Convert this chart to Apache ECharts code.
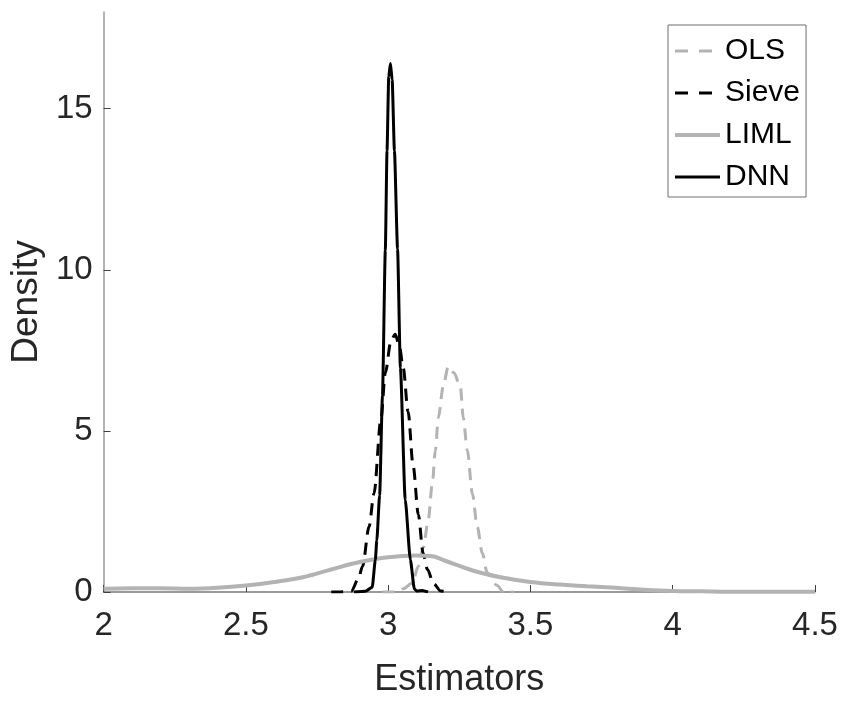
<!DOCTYPE html>
<html>
<head>
<meta charset="utf-8">
<script src="https://cdn.jsdelivr.net/npm/echarts@6/dist/echarts.min.js"></script>
<style>
  html, body { margin: 0; padding: 0; background: #fff; }
  #chart { width: 843px; height: 703px; }
</style>
</head>
<body>
<div id="chart"></div>
<script>
// Kernel density estimates of the four estimators
const olsX   = [2.98, 3.032, 3.053, 3.085, 3.106, 3.124, 3.141, 3.155, 3.166, 3.176, 3.194, 3.211, 3.232, 3.254, 3.264, 3.278, 3.296, 3.313, 3.331, 3.348, 3.383, 3.405, 3.44];
const olsY   = [0, 0, 0.1, 0.28, 0.8, 1.4, 2.25, 3.35, 4.4, 5.4, 6.4, 7.0, 6.8, 6.34, 5.4, 4.4, 3.05, 2.03, 1.2, 0.6, 0.2, 0, 0];

const sieveX = [2.80, 2.83, 2.87, 2.895, 2.91, 2.933, 2.95, 2.975, 2.99, 3.01, 3.025, 3.04, 3.053, 3.07, 3.088, 3.106, 3.123, 3.138, 3.16, 3.185, 3.21];
const sieveY = [0, 0, 0.02, 0.4, 0.8, 2.03, 3.05, 5.4, 6.8, 7.8, 8.0, 7.6, 6.95, 5.6, 3.9, 2.4, 1.2, 0.7, 0.25, 0.03, 0];

const limlX  = [2.0, 2.1, 2.2, 2.3, 2.4, 2.5, 2.6, 2.7, 2.8, 2.9, 3.0, 3.1, 3.15, 3.2, 3.3, 3.4, 3.5, 3.6, 3.7, 3.8, 3.9, 4.0, 4.1, 4.2, 4.3, 4.4, 4.5];
const limlY  = [0.10, 0.12, 0.12, 0.10, 0.13, 0.2, 0.31, 0.46, 0.7, 0.93, 1.08, 1.13, 1.12, 0.97, 0.66, 0.45, 0.31, 0.23, 0.18, 0.13, 0.07, 0.03, 0.02, 0.01, 0.01, 0.01, 0.01];

const dnnX   = [2.88, 2.92, 2.944, 2.955, 2.96, 2.97, 2.98, 2.99, 2.996, 3.002, 3.008, 3.014, 3.022, 3.033, 3.043, 3.06, 3.078, 3.092, 3.10, 3.12, 3.14];
const dnnY   = [0, 0.02, 0.15, 1.0, 1.6, 3.0, 6.1, 10.6, 13.7, 16.0, 16.4, 15.9, 13.7, 10.65, 6.95, 2.86, 1.0, 0.1, 0.03, 0.05, 0];

const seriesNames = ['OLS', 'Sieve', 'LIML', 'DNN'];
const xTicks = [2, 2.5, 3, 3.5, 4, 4.5];
const yTicks = [0, 5, 10, 15];

const pairs = (xs, ys) => xs.map((x, i) => [x, ys[i]]);

const GRAY = '#b3b3b3';
const FONT = '"Liberation Sans", Arial, Helvetica, sans-serif';

// line style per estimator, shared by the curve and its legend key
const styles = {
  OLS:   { color: GRAY,   width: 3, type: [12, 8] },
  Sieve: { color: '#000', width: 3, type: [12, 8] },
  LIML:  { color: GRAY,   width: 4, type: 'solid' },
  DNN:   { color: '#000', width: 3, type: 'solid' }
};
// legend keys show two dashes for the dashed estimators
const keyDash = [13, 11];

const chart = echarts.init(document.getElementById('chart'), null, { renderer: 'canvas' });

chart.setOption({
  animation: false,
  backgroundColor: '#ffffff',
  grid: { left: 103, right: 28, top: 12, bottom: 107, containLabel: false },
  legend: {
    orient: 'vertical',
    left: 668,
    top: 25,
    padding: [10, 6, 4, 5],
    itemWidth: 45,
    itemHeight: 14,
    itemGap: 10,
    backgroundColor: '#ffffff',
    borderColor: '#6e6e6e',
    borderWidth: 1,
    borderRadius: 0,
    // line-only legend keys (no marker in the middle)
    itemStyle: { opacity: 0 },
    textStyle: { fontFamily: FONT, fontSize: 30, lineHeight: 32, color: '#000' },
    data: seriesNames.map(n => ({
      name: n,
      lineStyle: {
        color: styles[n].color,
        width: styles[n].width,
        type: styles[n].type === 'solid' ? 'solid' : keyDash
      }
    }))
  },
  xAxis: {
    type: 'value',
    min: 2, max: 4.5, interval: 0.5,
    name: 'Estimators',
    nameLocation: 'middle',
    nameGap: 70,
    nameTextStyle: { fontFamily: FONT, fontSize: 36, color: '#262626' },
    axisLine: { show: true, onZero: false, lineStyle: { color: '#7a7a7a', width: 1.5 } },
    axisTick: { show: true, inside: true, length: 7, lineStyle: { color: '#404040', width: 1 }, customValues: xTicks },
    axisLabel: { fontFamily: FONT, fontSize: 33, color: '#262626', margin: 17, customValues: xTicks },
    splitLine: { show: false }
  },
  yAxis: {
    type: 'value',
    min: 0, max: 18, interval: 5,
    name: 'Density',
    nameLocation: 'middle',
    nameGap: 58,
    nameRotate: 90,
    nameTextStyle: { fontFamily: FONT, fontSize: 37, color: '#262626' },
    axisLine: { show: true, lineStyle: { color: '#9a9a9a', width: 1.5 } },
    axisTick: { show: true, inside: true, length: 7, lineStyle: { color: '#404040', width: 1 }, customValues: yTicks },
    axisLabel: { fontFamily: FONT, fontSize: 33, color: '#262626', margin: 11, customValues: yTicks },
    splitLine: { show: false }
  },
  series: [
    {
      name: 'OLS', type: 'line', data: pairs(olsX, olsY),
      symbol: 'none', smooth: 0.3, smoothMonotone: 'x',
      lineStyle: styles.OLS, itemStyle: { color: GRAY }
    },
    {
      name: 'Sieve', type: 'line', data: pairs(sieveX, sieveY),
      symbol: 'none', smooth: 0.3, smoothMonotone: 'x',
      lineStyle: styles.Sieve, itemStyle: { color: '#000' }
    },
    {
      name: 'LIML', type: 'line', data: pairs(limlX, limlY),
      symbol: 'none', smooth: 0.4,
      lineStyle: styles.LIML, itemStyle: { color: GRAY }
    },
    {
      name: 'DNN', type: 'line', data: pairs(dnnX, dnnY),
      symbol: 'none', smooth: 0.2, smoothMonotone: 'x',
      lineStyle: styles.DNN, itemStyle: { color: '#000' }
    }
  ]
});
</script>
</body>
</html>
